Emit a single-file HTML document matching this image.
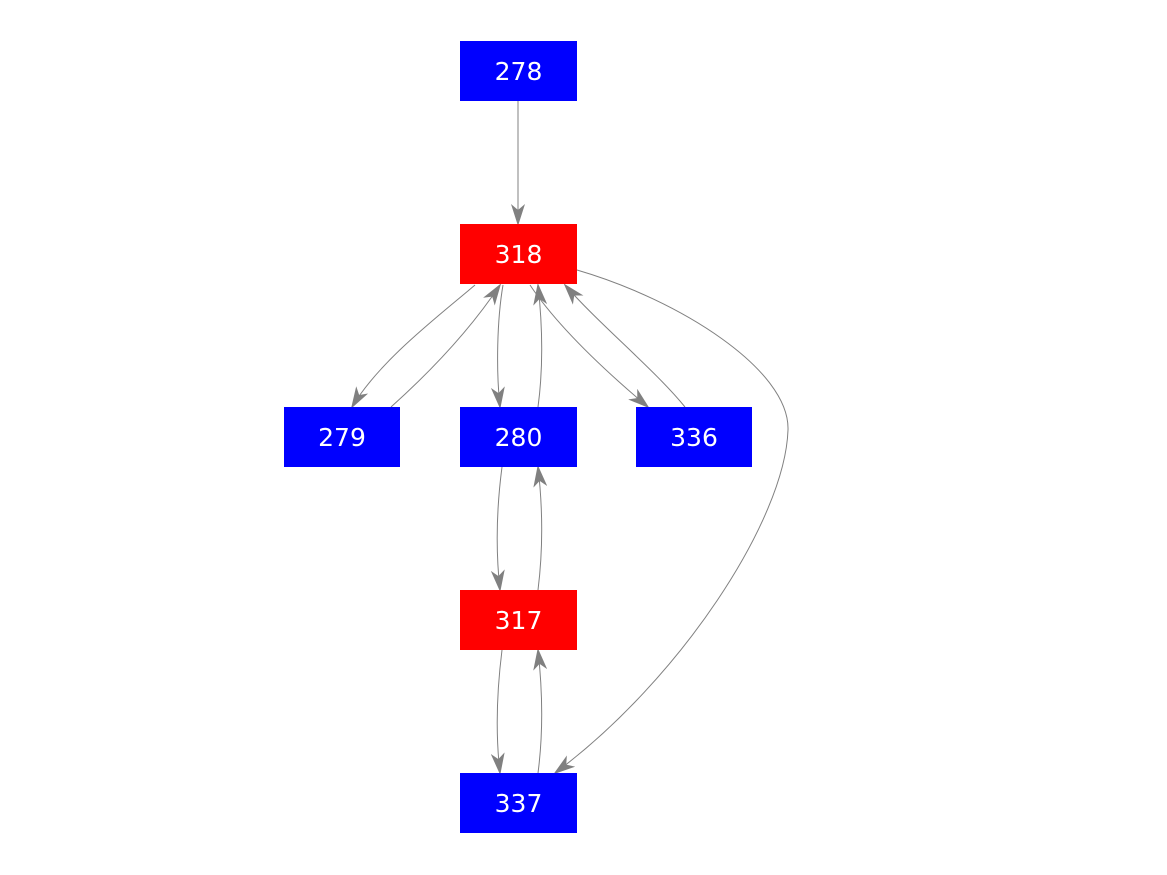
<!DOCTYPE html>
<html><head><style>
body{margin:0;background:#fff;width:1167px;height:875px;overflow:hidden}
svg{display:block}
text{font-family:"DejaVu Sans","Liberation Sans",sans-serif;font-size:25px;fill:#fff}
</style></head><body>
<svg width="1167" height="875" viewBox="0 0 1167 875">
<defs>
<marker id="a" markerWidth="22" markerHeight="14" refX="20" refY="7" orient="auto" markerUnits="userSpaceOnUse">
<path d="M0,0 L22,7 L0,14 L6,7 Z" fill="#808080"/>
</marker>
</defs>
<g fill="none" stroke="#808080" stroke-width="1" marker-end="url(#a)">
<path d="M518,101 L518,224"/>
<path d="M475,285 C440,315 380,360 352,407"/>
<path d="M391,407 C430,372 470,330 500,285"/>
<path d="M503,285 C497,320 496,370 500,407"/>
<path d="M538,407 C543,370 543,330 538,285"/>
<path d="M530,285 C560,330 610,375 648,407"/>
<path d="M685,407 C655,370 600,325 565,285"/>
<path d="M577,270 C680,300 790,370 788,430 C785,520 680,680 555,773"/>
<path d="M502,467 C497,505 495,545 500,590"/>
<path d="M538,590 C543,550 543,510 538,467"/>
<path d="M502,650 C497,690 495,730 500,773"/>
<path d="M538,773 C543,735 543,695 538,650"/>
</g>
<rect x="460" y="41" width="117" height="60" fill="#0000ff"/>
<rect x="460" y="224" width="117" height="60" fill="#ff0000"/>
<rect x="284" y="407" width="116" height="60" fill="#0000ff"/>
<rect x="460" y="407" width="117" height="60" fill="#0000ff"/>
<rect x="636" y="407" width="116" height="60" fill="#0000ff"/>
<rect x="460" y="590" width="117" height="60" fill="#ff0000"/>
<rect x="460" y="773" width="117" height="60" fill="#0000ff"/>
<g text-anchor="middle">
<text x="518.5" y="80">278</text>
<text x="518.5" y="263">318</text>
<text x="342" y="446">279</text>
<text x="518.5" y="446">280</text>
<text x="694" y="446">336</text>
<text x="518.5" y="629">317</text>
<text x="518.5" y="812">337</text>
</g>
</svg>
</body></html>
